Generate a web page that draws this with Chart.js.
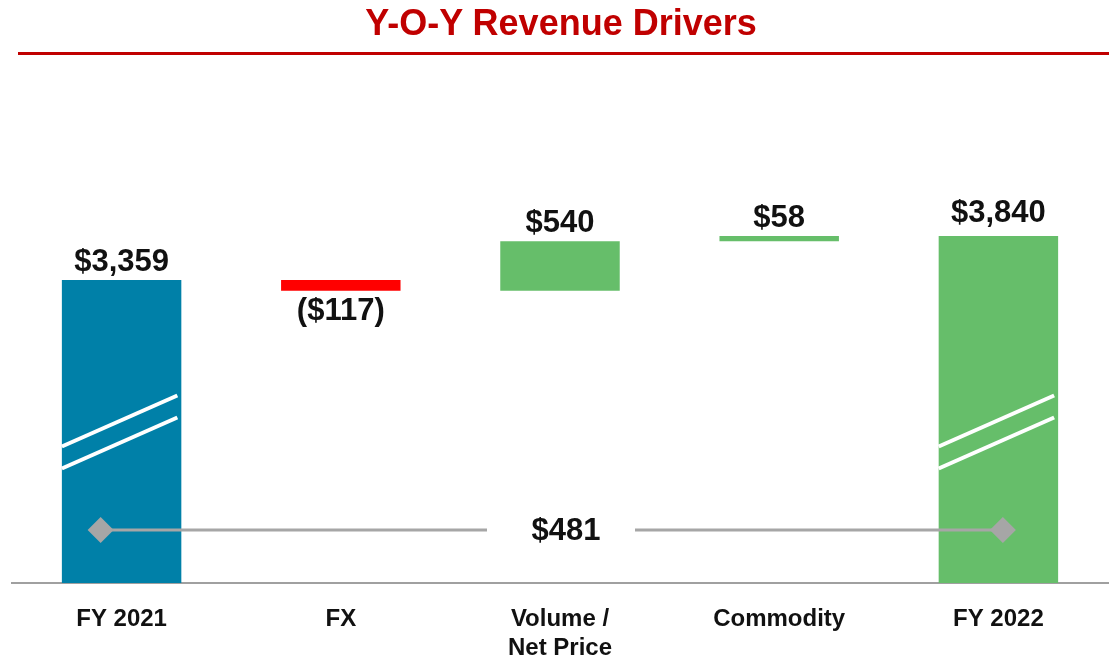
<!DOCTYPE html>
<html>
<head>
<meta charset="utf-8">
<script src="https://cdn.jsdelivr.net/npm/chart.js@4"></script>
<style>
  html, body { margin: 0; padding: 0; background: #fff; }
  #wrap { position: relative; width: 1109px; height: 660px; }
  #title {
    position: absolute; left: 13px; top: 1px; width: 1096px; text-align: center;
    font: bold 36px "Liberation Sans", Arial, sans-serif; color: #c00000; line-height: 44px;
  }
  #rule { position: absolute; left: 18px; right: 0; top: 52px; height: 3px; background: #c00000; }
  canvas { position: absolute; left: 0; top: 0; }
</style>
</head>
<body>
<div id="wrap">
  <canvas id="chart" width="1109" height="660"></canvas>
  <div id="title">Y-O-Y Revenue Drivers</div>
  <div id="rule"></div>
</div>
<script>
// data
const categories = ["FY 2021", "FX", ["Volume /", "Net Price"], "Commodity", "FY 2022"];
const startValue = 3359;
const drivers = [-117, 540, 58];
const endValue = 3840;
const valueLabels = ["$3,359", "($117)", "$540", "$58", "$3,840"];
const changeLabel = "$481";

// broken axis: bottom of the chart is not zero
const AXIS_MIN = 47;
const AXIS_MAX = 5327;
const BRIDGE_LEVEL = 626; // where the grey $481 connector sits

const BLUE = "#0080a8";
const GREEN = "#66be6a";
const RED = "#ff0000";
const GREY = "#a6a6a6";
const FONT = "'Liberation Sans', Arial, sans-serif";

// waterfall ranges
const bars = [[AXIS_MIN, startValue]];
let run = startValue;
drivers.forEach((d) => {
  bars.push([run, run + d]);
  run += d;
});
bars.push([AXIS_MIN, endValue]);

const colors = [BLUE, ...drivers.map((d) => (d < 0 ? RED : GREEN)), GREEN];
const isNegative = [false, ...drivers.map((d) => d < 0), false];

Chart.defaults.font.family = FONT;

const labelPlugin = {
  id: "labels",
  afterDatasetsDraw: (chart) => {
    const { ctx, scales: { x, y } } = chart;
    const meta = chart.getDatasetMeta(0);

    ctx.save();
    // break marks on the two total bars (same height on both)
    const first = meta.data[0];
    const mid = (first.y + first.base) / 2;
    [0, meta.data.length - 1].forEach((i) => {
      const bar = meta.data[i];
      const left = bar.x - bar.width / 2;
      const right = bar.x + bar.width / 2 - 4;
      ctx.strokeStyle = "#ffffff";
      ctx.lineWidth = 4;
      [-11, 11].forEach((off) => {
        ctx.beginPath();
        ctx.moveTo(left, mid + 26 + off);
        ctx.lineTo(right, mid - 25 + off);
        ctx.stroke();
      });
    });

    // connector with diamonds
    const ly = y.getPixelForValue(BRIDGE_LEVEL);
    const lx = meta.data[0].x - 21;
    const rx = meta.data[meta.data.length - 1].x + 4.5;
    const tx = x.getPixelForValue(2) + 6;
    ctx.strokeStyle = GREY;
    ctx.lineWidth = 3;
    ctx.beginPath();
    ctx.moveTo(lx, ly);
    ctx.lineTo(tx - 79, ly);
    ctx.moveTo(tx + 69, ly);
    ctx.lineTo(rx, ly);
    ctx.stroke();
    ctx.fillStyle = GREY;
    [lx, rx].forEach((cx) => {
      ctx.beginPath();
      ctx.moveTo(cx, ly - 13);
      ctx.lineTo(cx + 13, ly);
      ctx.lineTo(cx, ly + 13);
      ctx.lineTo(cx - 13, ly);
      ctx.closePath();
      ctx.fill();
    });

    ctx.fillStyle = "#111111";
    ctx.font = "bold 31px " + FONT;
    ctx.textAlign = "center";
    ctx.textBaseline = "middle";
    ctx.fillText(changeLabel, tx, ly + 1);

    // value labels
    meta.data.forEach((bar, i) => {
      const top = Math.min(bar.y, bar.base);
      const bottom = Math.max(bar.y, bar.base);
      if (isNegative[i]) {
        ctx.fillText(valueLabels[i], bar.x, bottom + 21);
      } else {
        const off = i === meta.data.length - 1 ? 23 : 18;
        ctx.fillText(valueLabels[i], bar.x, top - off);
      }
    });
    ctx.restore();
  },
};

new Chart(document.getElementById("chart"), {
  type: "bar",
  data: {
    labels: categories,
    datasets: [
      {
        data: bars,
        backgroundColor: colors,
        borderWidth: 0,
        barPercentage: 0.545,
        categoryPercentage: 1,
      },
    ],
  },
  plugins: [labelPlugin],
  options: {
    responsive: false,
    animation: false,
    layout: { padding: { top: 100, left: 12, right: 1, bottom: 0 } },
    plugins: { legend: { display: false }, tooltip: { enabled: false } },
    scales: {
      y: { display: false, min: AXIS_MIN, max: AXIS_MAX },
      x: {
        grid: { display: false, drawTicks: false },
        border: { display: true, color: "#a0a0a0", width: 2 },
        ticks: {
          color: "#111111",
          padding: 22,
          font: { size: 24, weight: "bold", lineHeight: 1.2 },
          maxRotation: 0,
          autoSkip: false,
        },
        afterFit: (scale) => {
          scale.height = 77;
        },
      },
    },
  },
});
</script>
</body>
</html>
